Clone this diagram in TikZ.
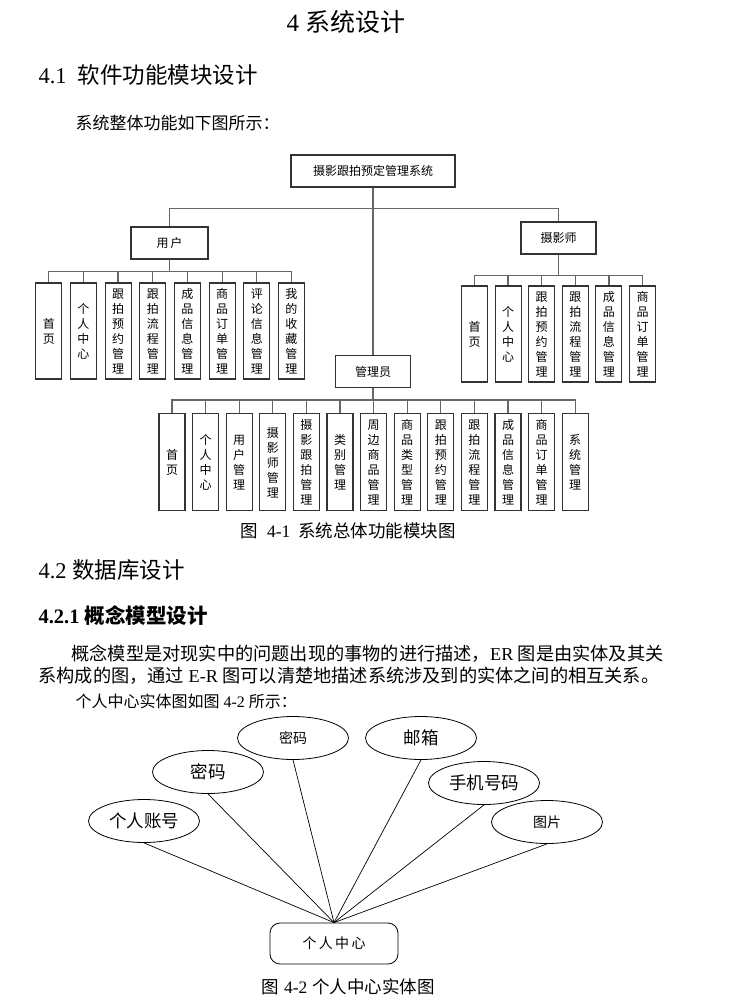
\documentclass[tikz,border=0pt]{standalone}
\usepackage{fontspec}
\setmainfont{Liberation Serif}
\newfontfamily\zh{Noto Sans CJK SC}
\usetikzlibrary{shapes.geometric}

\tikzset{
  box/.style={draw=black!80, line width=1.1pt, inner sep=0pt, minimum height=32pt,
    font=\zh\fontsize{12}{12}\selectfont},
  leaf/.style={draw=black!80, line width=1.1pt, inner sep=0pt, minimum width=26pt,
    align=center, font=\zh\fontsize{12}{15}\selectfont},
  wire/.style={draw=black!60, line width=1.3pt},
  attr/.style={draw, ellipse, line width=0.8pt, inner sep=0pt, minimum width=111pt,
    minimum height=43pt, font=\zh\fontsize{17.5}{17.5}\selectfont},
  erline/.style={draw, line width=0.7pt},
}

\begin{document}
\begin{tikzpicture}[x=1pt, y=-1pt]
  \fill[white] (0,0) rectangle (740,1005);
  \useasboundingbox (0,0) rectangle (740,1005);

  %% Headings and text
  \node[font=\fontsize{25}{25}\selectfont] (title) at (346,22) {4 {\zh 系统设计}};
  \node[anchor=west, font=\fontsize{22.5}{22.5}\selectfont] (sec1) at (35,75) {4.1\ \ {\zh 软件功能模块设计}};
  \node[anchor=west, font=\zh\fontsize{17}{17}\selectfont] (intro) at (72,123) {系统整体功能如下图所示：};

  %% Function module chart
  \node[box, minimum width=164pt] (sys) at (373,171) {摄影跟拍预定管理系统};
  \node[box, minimum width=77pt] (user) at (169.5,243) {用\,户};
  \node[box, minimum width=75pt] (pho) at (558.5,238) {摄影师};
  \node[box, minimum width=75pt] (adm) at (373,371.5) {管理员};

  \draw[wire] (sys.south) -- (adm.north);
  \draw[wire] (user.north) -- ++(0,-18) -| (pho.north);

  % user modules
  \foreach \lab [count=\i] in {首\\页, 个\\人\\中\\心, 跟\\拍\\预\\约\\管\\理,
      跟\\拍\\流\\程\\管\\理, 成\\品\\信\\息\\管\\理, 商\\品\\订\\单\\管\\理,
      评\\论\\信\\息\\管\\理, 我\\的\\收\\藏\\管\\理}{
    \node[leaf, minimum height=96pt] (u\i) at ({48.8+34.67*(\i-1)},331) {\lab};
    \draw[wire] (user.south) -- ++(0,12) -| (u\i.north);
  }

  % photographer modules
  \foreach \lab [count=\i] in {首\\页, 个\\人\\中\\心, 跟\\拍\\预\\约\\管\\理,
      跟\\拍\\流\\程\\管\\理, 成\\品\\信\\息\\管\\理, 商\\品\\订\\单\\管\\理}{
    \node[leaf, minimum height=96pt] (p\i) at ({474.5+33.6*(\i-1)},334) {\lab};
    \draw[wire] (pho.south) -- ++(0,21) -| (p\i.north);
  }

  % admin modules
  \foreach \lab [count=\i] in {首\\页, 个\\人\\中\\心, 用\\户\\管\\理, 摄\\影\\师\\管\\理,
      摄\\影\\跟\\拍\\管\\理, 类\\别\\管\\理, 周\\边\\商\\品\\管\\理, 商\\品\\类\\型\\管\\理,
      跟\\拍\\预\\约\\管\\理, 跟\\拍\\流\\程\\管\\理, 成\\品\\信\\息\\管\\理,
      商\\品\\订\\单\\管\\理, 系\\统\\管\\理}{
    \node[leaf, minimum height=97pt] (a\i) at ({172+33.6*(\i-1)},462.3) {\lab};
    \draw[wire] (adm.south) -- ++(0,12) -| (a\i.north);
  }

  \node[anchor=west, font=\fontsize{17.5}{17.5}\selectfont] (cap1) at (237,531)
    {{\zh 图}\hspace{9pt}4-1\hspace{8pt}{\zh 系统总体功能模块图}};

  %% Database section
  \node[anchor=west, font=\fontsize{22.5}{22.5}\selectfont] (sec2) at (35,570) {4.2 {\zh 数据库设计}};
  \node[anchor=west, font=\bfseries\fontsize{20.5}{20.5}\selectfont] (sec21) at (35,616) {4.2.1 {\zh 概念模型设计}};
  \node[anchor=west, font=\fontsize{18.2}{18.2}\selectfont] (par1) at (68,654)
    {{\zh 概念模型是对现实中的问题出现的事物的进行描述，}ER {\zh 图是由实体及其关}};
  \node[anchor=west, font=\fontsize{18.2}{18.2}\selectfont] (par2) at (35,676)
    {{\zh 系构成的图，通过} E-R {\zh 图可以清楚地描述系统涉及到的实体之间的相互关系。}};
  \node[anchor=west, font=\fontsize{16}{16}\selectfont] (par3) at (72,701)
    {{\zh 个人中心实体图如图} 4-2 {\zh 所示：}};

  %% Entity diagram
  \node[attr] (acc) at (144,821) {个人账号};
  \node[attr] (pwa) at (208,772) {密码};
  \node[attr, font=\zh\fontsize{14}{14}\selectfont] (pwb) at (293,738) {密码};
  \node[attr] (mail) at (421,738) {邮箱};
  \node[attr] (tel) at (484,783) {手机号码};
  \node[attr, font=\zh\fontsize{14}{14}\selectfont] (pic) at (547,822) {图片};
  \node[draw, line width=0.8pt, rounded corners=10pt, minimum width=128pt, minimum height=41pt,
    font=\zh\fontsize{14}{14}\selectfont] (cen) at (334,943.5) {个\,人\,中\,心};

  \foreach \a in {acc,pwa,pwb,mail,tel,pic}
    \draw[erline] (\a.south) -- (cen.north);

  \node[anchor=west, font=\fontsize{17.5}{17.5}\selectfont] (cap2) at (258,987)
    {{\zh 图}\hspace{5pt}4-2\hspace{5pt}{\zh 个人中心实体图}};
\end{tikzpicture}
\end{document}
